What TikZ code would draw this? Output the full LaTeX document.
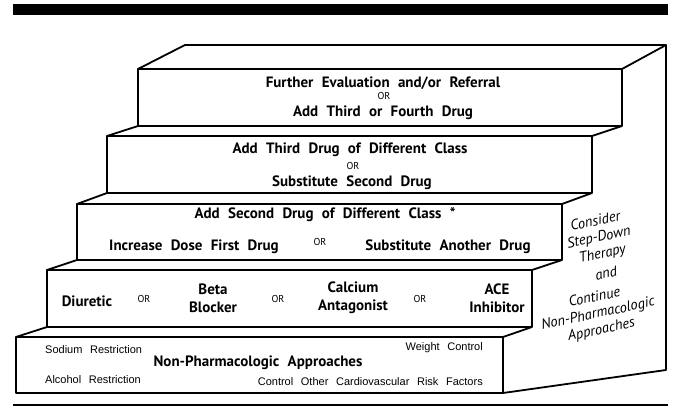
\documentclass[tikz,border=0pt]{standalone}
\usepackage{fontspec}
\setmainfont{PT Sans}[WordSpace=2.2]
\newfontfamily\helv{Liberation Sans}[WordSpace=2.5]

\begin{document}
\begin{tikzpicture}[x=1pt,y=1pt,yscale=-1,xscale=1,
  stepline/.style={line width=1.8, line join=round},
  big/.style={font=\fontsize{15}{18}\selectfont\bfseries, inner sep=0},
  ortext/.style={font=\fontsize{10}{11}\selectfont, inner sep=0},
  note/.style={font=\helv\fontsize{11}{12}\selectfont, inner sep=0},
  side/.style={font=\itshape\fontsize{14.5}{16.5}\selectfont, rotate=12, inner sep=0, align=center}]
  \useasboundingbox (0,0) rectangle (677,415);

  % rules
  \fill (13,4) rectangle (668,15);
  \draw [line width=1.5] (13,405) -- (668,405);

  % top face and side
  \draw [stepline] (138,69) -- (185,45) -- (666,45) -- (622,69);
  \draw [stepline] (666,45) -- (666,370) -- (503,393);

  % steps
  \draw [stepline] (138,69) rectangle (622,126);
  \draw [stepline] (107,136) rectangle (592,193);
  \draw [stepline] (77,204) rectangle (562,260);
  \draw [stepline] (47,270) rectangle (532,327);
  \draw [stepline] (16,337) rectangle (503,393);
  \draw [stepline] (107,136) -- (138,126) (592,136) -- (622,126);
  \draw [stepline] (77,204) -- (107,193) (562,204) -- (592,193);
  \draw [stepline] (47,270) -- (77,260) (532,270) -- (562,260);
  \draw [stepline] (16,337) -- (47,327) (503,337) -- (532,327);

  % step 5
  \node [big] (further) at (383,83) {Further Evaluation and/or Referral};
  \node [ortext] (orfive) at (384,96) {OR};
  \node [big] (addfourth) at (383,113) {Add Third or Fourth Drug};

  % step 4
  \node [big] (addthird) at (350,150) {Add Third Drug of Different Class};
  \node [ortext] (orfour) at (353,166) {OR};
  \node [big] (subsecond) at (352,183) {Substitute Second Drug};

  % step 3
  \node [big] (addsecond) at (325,215) {Add Second Drug of Different Class *};
  \node [big] (increase) at (194,247) {Increase Dose First Drug};
  \node [ortext] (orthree) at (320,242) {OR};
  \node [big] (subanother) at (448,247) {Substitute Another Drug};

  % step 2
  \node [big] (diuretic) at (87,301) {Diuretic};
  \node [ortext] (ortwoa) at (144,299) {OR};
  \node [big, align=center] (beta) at (213,298) {Beta\\Blocker};
  \node [ortext] (ortwob) at (278,299) {OR};
  \node [big, align=center] (calcium) at (353,298) {Calcium\\Antagonist};
  \node [ortext] (ortwoc) at (420,299) {OR};
  \node [big, align=center] (ace) at (497,298) {ACE\\Inhibitor};

  % step 1
  \node [note, anchor=west] (sodium) at (45,350) {Sodium Restriction};
  \node [note, anchor=west] (alcohol) at (45,380) {Alcohol Restriction};
  \node [big] (nonpharm) at (258,363) {Non-Pharmacologic Approaches};
  \node [note, anchor=east] (weight) at (483,348) {Weight Control};
  \node [note, anchor=east] (riskfactors) at (483,382) {Control Other Cardiovascular Risk Factors};

  % side
  \node [side] (stepdown) at (599,238) {Consider\\Step-Down\\Therapy};
  \node [side] (sideand) at (606,273) {and};
  \node [side] (continue) at (598,314) {Continue\\Non-Pharmacologic\\Approaches};
\end{tikzpicture}
\end{document}
